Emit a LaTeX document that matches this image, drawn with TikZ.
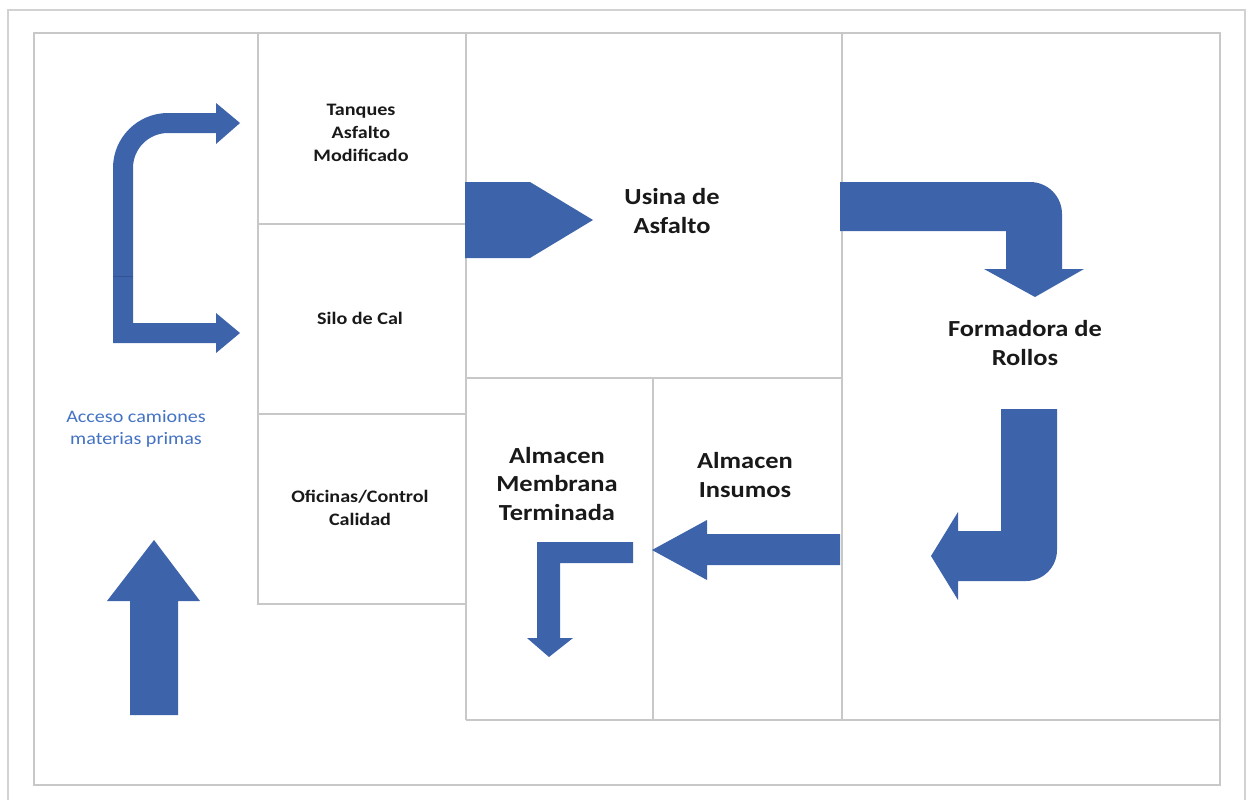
\documentclass[tikz,border=0pt]{standalone}
\usepackage{fontspec}
\setmainfont{Carlito}[FakeStretch=1.15]
\definecolor{flowblue}{RGB}{61,99,170}
\definecolor{seamblue}{RGB}{50,84,150}
\definecolor{labelblue}{RGB}{68,114,196}
\definecolor{wallgray}{RGB}{200,200,200}
\definecolor{framegray}{RGB}{210,210,210}
\tikzset{
  wall/.style={draw=wallgray, line width=1.6pt},
  flow/.style={fill=flowblue, draw=none},
  roomsmall/.style={align=center, font=\fontsize{17.5}{23}\selectfont\bfseries, text=black!90},
  roombig/.style={align=center, font=\fontsize{23}{28.5}\selectfont\bfseries, text=black!90},
  access/.style={align=center, font=\fontsize{17.5}{22}\selectfont, text=labelblue}
}
\begin{document}
\begin{tikzpicture}[x=1pt, y=-1pt]
\useasboundingbox (0,0) rectangle (1248,800);
\fill[white] (0,0) rectangle (1248,800);

% page border
\draw[framegray, line width=1.4pt] (8,800) -- (8,10) -- (1245,10) -- (1245,800);

% site outline and room walls
\draw[wall] (34,33) rectangle (1220,785);
\draw[wall] (258,33) -- (258,604) -- (466,604);
\draw[wall] (258,224) -- (466,224);
\draw[wall] (258,414) -- (466,414);
\draw[wall] (466,33) -- (466,720);
\draw[wall] (466,378) -- (842,378);
\draw[wall, line width=2.4pt] (653,378) -- (653,720);
\draw[wall] (842,33) -- (842,720);
\draw[wall] (466,720) -- (1220,720);

% flow arrows
% bent arrow to the tanks (upper part)
\fill[flow] (113,276) -- (113,168) arc[start angle=180, end angle=270, radius=55]
  -- (216,113) -- (216,103) -- (240,123) -- (216,144) -- (216,133) -- (168,133)
  arc[start angle=270, end angle=180, radius=35] -- (133,276) -- cycle;
% bent arrow to the lime silo (lower part)
\fill[flow] (113,276) -- (113,343) -- (216,343) -- (216,353) -- (240,333)
  -- (216,313) -- (216,323) -- (133,323) -- (133,276) -- cycle;
\draw[seamblue, line width=0.6pt] (113,276) -- (133,276);
% pentagon into the asphalt plant
\fill[flow] (465,182) -- (530,182) -- (593,220) -- (530,258) -- (465,258) -- cycle;
% plant to roll former
\fill[flow] (840,182) -- (1030,182) arc[start angle=270, end angle=360, radius=32]
  -- (1062,269) -- (1084,269) -- (1035,297) -- (984,269) -- (1006,269)
  -- (1006,231) -- (840,231) -- cycle;
% roll former back to the left
\fill[flow] (1001,409) -- (1057,409) -- (1057,550) arc[start angle=0, end angle=90, radius=31]
  -- (958,581) -- (958,600) -- (931,556) -- (958,512) -- (958,531) -- (1001,531) -- cycle;
% supplies store to finished membrane store
\fill[flow] (840,534) -- (707,534) -- (707,520) -- (652,550) -- (707,580) -- (707,565)
  -- (840,565) -- cycle;
% finished membrane out
\fill[flow] (633,542) -- (537,542) -- (537,638) -- (527,638) -- (549,657) -- (573,638)
  -- (560,638) -- (560,563) -- (633,563) -- cycle;
% truck access
\fill[flow] (130,715) -- (130,601) -- (107,601) -- (154,540) -- (200,601) -- (178,601)
  -- (178,715) -- cycle;

% room labels
\node[roomsmall] (tanques) at (361,133) {Tanques\\Asfalto\\Modificado};
\node[roomsmall] (silo) at (360,318) {Silo de Cal};
\node[roomsmall] (oficinas) at (360,508) {Oficinas/Control\\Calidad};
\node[roombig] (usina) at (672,211) {Usina de\\Asfalto};
\node[roombig] (formadora) at (1025,343) {Formadora de\\Rollos};
\node[roombig] (membrana) at (557,484) {Almacen\\Membrana\\Terminada};
\node[roombig] (insumos) at (745,475) {Almacen\\Insumos};
\node[access] (acceso) at (136,429) {Acceso camiones\\materias primas};
\end{tikzpicture}
\end{document}
